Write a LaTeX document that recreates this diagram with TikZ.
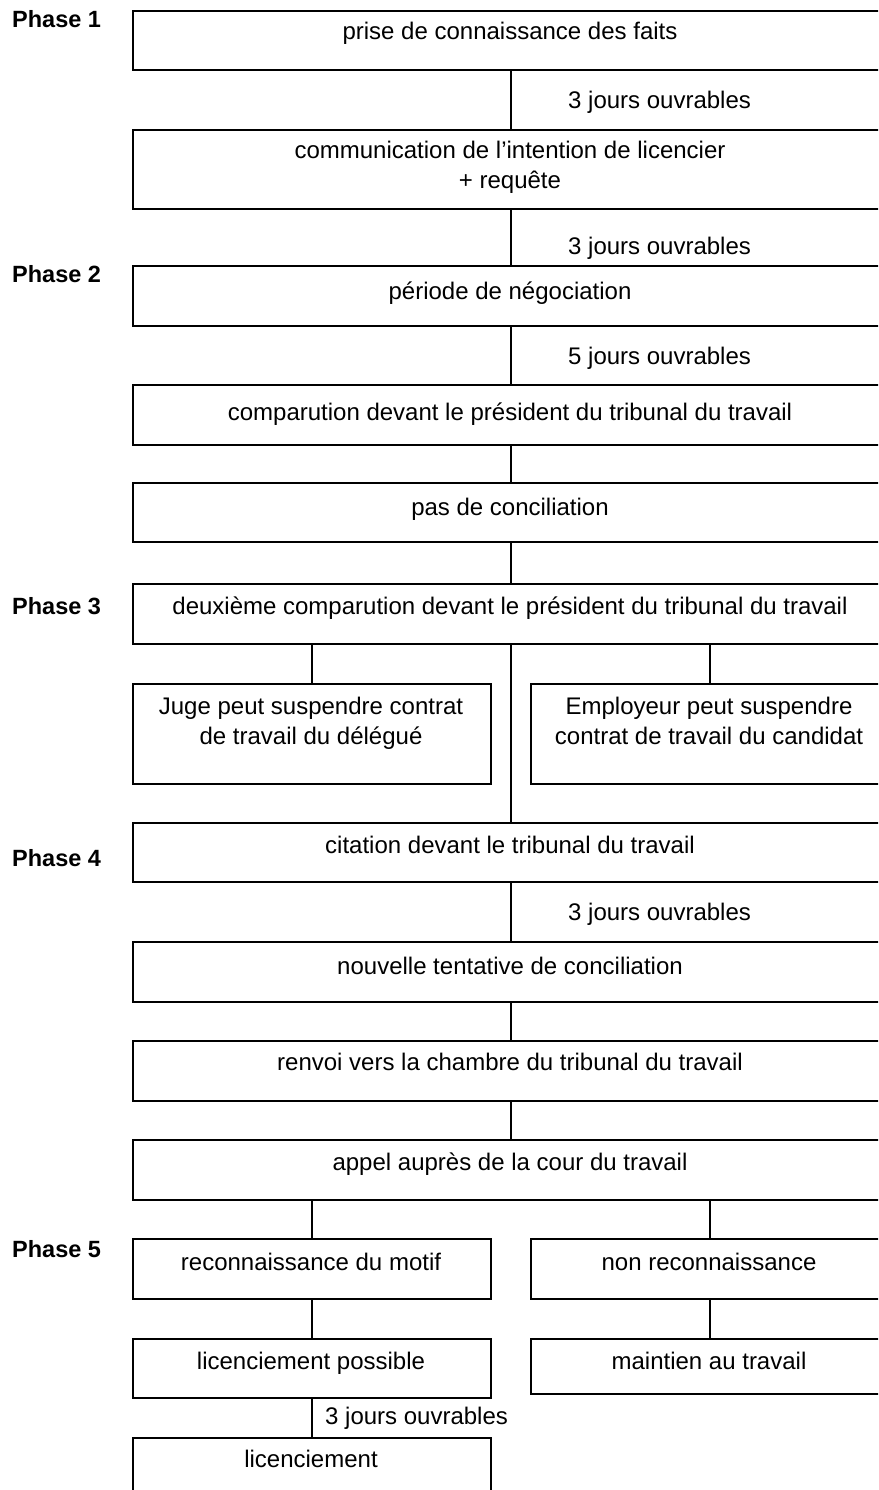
\documentclass[tikz,border=0pt]{standalone}
\usepackage{fontspec}
\setmainfont{Liberation Sans}
\begin{document}
\begin{tikzpicture}[x=1pt,y=-1pt,
  box/.style={draw, line width=1.6pt, anchor=north west, inner sep=0pt, minimum width=756pt},
  halfbox/.style={draw, line width=1.6pt, anchor=north west, inner sep=0pt, minimum width=358pt},
  txt/.style={inner sep=0pt, anchor=base, font=\fontsize{24}{30}\selectfont, align=center},
  jours/.style={inner sep=0pt, anchor=base west, font=\fontsize{24}{30}\selectfont},
  phase/.style={inner sep=0pt, anchor=base west, font=\fontsize{23.5}{28}\selectfont\bfseries},
  link/.style={line width=1.5pt}]
\useasboundingbox (0,0) rectangle (878,1490);
\clip (0,0) rectangle (878,1490);

% phase labels
\node[phase] (p1) at (12,28) {Phase 1};
\node[phase] (p2) at (12,282) {Phase 2};
\node[phase] (p3) at (12,614) {Phase 3};
\node[phase] (p4) at (12,866) {Phase 4};
\node[phase] (p5) at (12,1257) {Phase 5};

% boxes
\node[box, minimum height=59pt] (b1) at (132,10) {};
\node[box, minimum height=79pt] (b2) at (132,129) {};
\node[box, minimum height=60pt] (b3) at (132,265) {};
\node[box, minimum height=60pt] (b4) at (132,384) {};
\node[box, minimum height=59pt] (b5) at (132,482) {};
\node[box, minimum height=60pt] (b6) at (132,583) {};
\node[halfbox, minimum height=100pt] (b7a) at (132,683) {};
\node[halfbox, minimum height=100pt] (b7b) at (530,683) {};
\node[box, minimum height=59pt] (b8) at (132,822) {};
\node[box, minimum height=60pt] (b9) at (132,941) {};
\node[box, minimum height=60pt] (b10) at (132,1040) {};
\node[box, minimum height=60pt] (b11) at (132,1139) {};
\node[halfbox, minimum height=60pt] (b12a) at (132,1238) {};
\node[halfbox, minimum height=60pt] (b12b) at (530,1238) {};
\node[halfbox, minimum height=59pt] (b13a) at (132,1338) {};
\node[halfbox, minimum height=55pt] (b13b) at (530,1338) {};
\node[halfbox, minimum height=80pt] (b14) at (132,1437) {};

% texts
\node[txt] (t1) at (510,40) {prise de connaissance des faits};
\node[txt] (t2) at (510,189) {communication de l’intention de licencier\\+ requête};
\node[txt] (t3) at (510,299) {période de négociation};
\node[txt] (t4) at (510,420) {comparution devant le président du tribunal du travail};
\node[txt] (t5) at (510,515) {pas de conciliation};
\node[txt] (t6) at (510,614) {deuxième comparution devant le président du tribunal du travail};
\node[txt] (t7a) at (311,744) {Juge peut suspendre contrat\\de travail du délégué};
\node[txt] (t7b) at (709,744) {Employeur peut suspendre\\contrat de travail du candidat};
\node[txt] (t8) at (510,853) {citation devant le tribunal du travail};
\node[txt] (t9) at (510,974) {nouvelle tentative de conciliation};
\node[txt] (t10) at (510,1070) {renvoi vers la chambre du tribunal du travail};
\node[txt] (t11) at (510,1170) {appel auprès de la cour du travail};
\node[txt] (t12a) at (311,1270) {reconnaissance du motif};
\node[txt] (t12b) at (709,1270) {non reconnaissance};
\node[txt] (t13a) at (311,1369) {licenciement possible};
\node[txt] (t13b) at (709,1369) {maintien au travail};
\node[txt] (t14) at (311,1467) {licenciement};

% delay labels
\node[jours] (j1) at (568,109) {3 jours ouvrables};
\node[jours] (j2) at (568,254) {3 jours ouvrables};
\node[jours] (j3) at (568,364) {5 jours ouvrables};
\node[jours] (j4) at (568,920) {3 jours ouvrables};
\node[jours] (j5) at (325,1424) {3 jours ouvrables};

% connectors
\draw[link] (b1.south) -- (b2.north);
\draw[link] (b2.south) -- (b3.north);
\draw[link] (b3.south) -- (b4.north);
\draw[link] (b4.south) -- (b5.north);
\draw[link] (b5.south) -- (b6.north);
\draw[link] (b6.south -| b7a.north) -- (b7a.north);
\draw[link] (b6.south -| b7b.north) -- (b7b.north);
\draw[link] (b6.south) -- (b8.north);
\draw[link] (b8.south) -- (b9.north);
\draw[link] (b9.south) -- (b10.north);
\draw[link] (b10.south) -- (b11.north);
\draw[link] (b11.south -| b12a.north) -- (b12a.north);
\draw[link] (b11.south -| b12b.north) -- (b12b.north);
\draw[link] (b12a.south) -- (b13a.north);
\draw[link] (b12b.south) -- (b13b.north);
\draw[link] (b13a.south) -- (b14.north);
\end{tikzpicture}
\end{document}
